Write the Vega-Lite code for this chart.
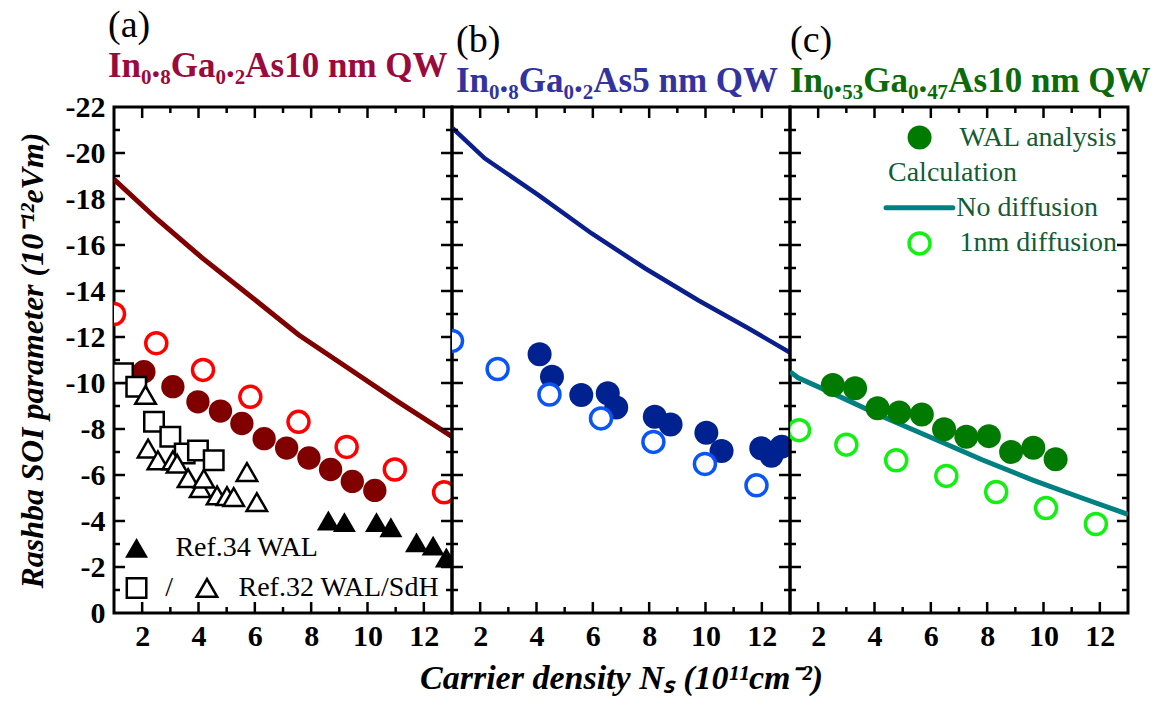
{
  "$schema": "https://vega.github.io/schema/vega-lite/v6.json",
  "padding": {"left": 14, "top": 5, "right": 5, "bottom": 2},
  "background": "white",
  "datasets": {
    "xmaj": [{"n":2,"a":0},{"n":4,"a":0},{"n":6,"a":0},{"n":8,"a":0},{"n":10,"a":0},{"n":12,"a":0},{"n":2,"a":-22},{"n":4,"a":-22},{"n":6,"a":-22},{"n":8,"a":-22},{"n":10,"a":-22},{"n":12,"a":-22}],
    "xmin": [{"n":3,"a":0},{"n":5,"a":0},{"n":7,"a":0},{"n":9,"a":0},{"n":11,"a":0},{"n":3,"a":-22},{"n":5,"a":-22},{"n":7,"a":-22},{"n":9,"a":-22},{"n":11,"a":-22}],
    "ymaj": [{"n":1,"a":-2},{"n":1,"a":-4},{"n":1,"a":-6},{"n":1,"a":-8},{"n":1,"a":-10},{"n":1,"a":-12},{"n":1,"a":-14},{"n":1,"a":-16},{"n":1,"a":-18},{"n":1,"a":-20},{"n":13,"a":-2},{"n":13,"a":-4},{"n":13,"a":-6},{"n":13,"a":-8},{"n":13,"a":-10},{"n":13,"a":-12},{"n":13,"a":-14},{"n":13,"a":-16},{"n":13,"a":-18},{"n":13,"a":-20}],
    "ymin": [{"n":1,"a":-1},{"n":1,"a":-3},{"n":1,"a":-5},{"n":1,"a":-7},{"n":1,"a":-9},{"n":1,"a":-11},{"n":1,"a":-13},{"n":1,"a":-15},{"n":1,"a":-17},{"n":1,"a":-19},{"n":1,"a":-21},{"n":13,"a":-1},{"n":13,"a":-3},{"n":13,"a":-5},{"n":13,"a":-7},{"n":13,"a":-9},{"n":13,"a":-11},{"n":13,"a":-13},{"n":13,"a":-15},{"n":13,"a":-17},{"n":13,"a":-19},{"n":13,"a":-21}],
    "a_line": [{"n":1.0,"a":-18.86},{"n":2.53,"a":-17.12},{"n":4.13,"a":-15.44},{"n":5.78,"a":-13.84},{"n":7.55,"a":-12.1},{"n":9.32,"a":-10.64},{"n":11.09,"a":-9.18},{"n":12.92,"a":-7.73},{"n":13.0,"a":-7.67}],
    "a_fill": [{"n":2.06,"a":-10.49},{"n":3.09,"a":-9.84},{"n":3.98,"a":-9.18},{"n":4.78,"a":-8.78},{"n":5.54,"a":-8.24},{"n":6.33,"a":-7.58},{"n":7.13,"a":-7.17},{"n":7.92,"a":-6.74},{"n":8.69,"a":-6.24},{"n":9.46,"a":-5.72},{"n":10.26,"a":-5.33}],
    "a_open": [{"n":1.0,"a":-13.0},{"n":2.5,"a":-11.73},{"n":4.16,"a":-10.57},{"n":5.84,"a":-9.4},{"n":7.55,"a":-8.31},{"n":9.26,"a":-7.22},{"n":10.97,"a":-6.24},{"n":12.72,"a":-5.25}],
    "a_ref34": [{"n":8.61,"a":-4.02},{"n":9.18,"a":-3.95},{"n":10.32,"a":-3.95},{"n":10.83,"a":-3.73},{"n":11.74,"a":-3.07},{"n":12.33,"a":-2.93},{"n":12.8,"a":-2.41},{"n":1.8,"a":-2.83}],
    "a_ref32sq": [{"n":1.32,"a":-10.42},{"n":1.79,"a":-9.84},{"n":2.42,"a":-8.31},{"n":3.0,"a":-7.66},{"n":3.51,"a":-6.93},{"n":3.98,"a":-7.07},{"n":4.54,"a":-6.64},{"n":1.8,"a":-1.09}],
    "a_ref32tri": [{"n":2.12,"a":-9.48},{"n":2.21,"a":-7.15},{"n":2.56,"a":-6.64},{"n":3.09,"a":-6.64},{"n":3.24,"a":-6.49},{"n":3.63,"a":-5.86},{"n":4.06,"a":-5.43},{"n":4.19,"a":-5.84},{"n":4.66,"a":-5.11},{"n":5.01,"a":-5.08},{"n":5.25,"a":-5.04},{"n":5.72,"a":-6.13},{"n":6.07,"a":-4.82},{"n":4.3,"a":-1.09}],
    "a_text": [{"n":3.18,"a":-2.83,"label":"Ref.34 WAL"},{"n":2.82,"a":-1.09,"label":"/"},{"n":5.42,"a":-1.09,"label":"Ref.32 WAL/SdH"}],
    "b_line": [{"n":1.0,"a":-21.1},{"n":2.16,"a":-19.77},{"n":4.07,"a":-18.17},{"n":5.96,"a":-16.5},{"n":7.85,"a":-14.99},{"n":9.74,"a":-13.6},{"n":11.52,"a":-12.38},{"n":13.0,"a":-11.32}],
    "b_fill": [{"n":4.11,"a":-11.25},{"n":4.55,"a":-10.27},{"n":5.59,"a":-9.48},{"n":6.53,"a":-9.55},{"n":6.83,"a":-8.93},{"n":8.2,"a":-8.53},{"n":8.76,"a":-8.2},{"n":10.03,"a":-7.84},{"n":10.57,"a":-7.04},{"n":11.98,"a":-7.16},{"n":12.34,"a":-6.84},{"n":12.7,"a":-7.23}],
    "b_open": [{"n":1.0,"a":-11.83},{"n":2.62,"a":-10.61},{"n":4.46,"a":-9.5},{"n":6.29,"a":-8.46},{"n":8.15,"a":-7.44},{"n":9.98,"a":-6.48},{"n":11.81,"a":-5.55}],
    "c_line": [{"n":1.0,"a":-10.49},{"n":1.29,"a":-10.23},{"n":2.52,"a":-9.55},{"n":4.3,"a":-8.53},{"n":6.07,"a":-7.6},{"n":7.84,"a":-6.65},{"n":9.62,"a":-5.78},{"n":11.39,"a":-4.99},{"n":13.0,"a":-4.29}],
    "c_fill": [{"n":2.52,"a":-9.91},{"n":3.31,"a":-9.77},{"n":4.11,"a":-8.9},{"n":4.88,"a":-8.72},{"n":5.68,"a":-8.63},{"n":6.47,"a":-7.99},{"n":7.26,"a":-7.66},{"n":8.06,"a":-7.69},{"n":8.85,"a":-7.0},{"n":9.64,"a":-7.18},{"n":10.43,"a":-6.68},{"n":5.6,"a":-20.67}],
    "c_open": [{"n":1.32,"a":-7.95},{"n":3.0,"a":-7.32},{"n":4.77,"a":-6.64},{"n":6.55,"a":-5.96},{"n":8.32,"a":-5.26},{"n":10.09,"a":-4.56},{"n":11.86,"a":-3.87},{"n":5.6,"a":-16.07}],
    "c_legline": [{"n":4.41,"a":-17.62},{"n":6.78,"a":-17.62}],
    "c_text": [{"n":7.02,"a":-20.67,"label":"WAL analysis"},{"n":4.48,"a":-19.12,"label":"Calculation"},{"n":6.9,"a":-17.62,"label":"No diffusion"},{"n":7.02,"a":-16.07,"label":"1nm diffusion"}]
  },
  "hconcat": [
    {
      "width": 338, "height": 506,
      "title": {"text": "(a)", "subtitle": "In₀.₈Ga₀.₂As10 nm QW", "subtitleColor": "#9b0a3c", "dx": -6},
      "layer": [
        {"data": {"name": "a_line"}, "mark": {"type": "line", "color": "#800000", "strokeWidth": 5, "clip": true},
         "encoding": {
           "x": {"field": "n", "type": "quantitative", "scale": {"domain": [1, 13], "nice": false, "zero": false},
                 "axis": {"orient": "bottom", "values": [2,4,6,8,10,12], "domain": false, "ticks": false, "tickSize": 0, "labelOverlap": false, "labelFlush": false, "labelPadding": 8, "title": null}},
           "y": {"field": "a", "type": "quantitative", "scale": {"domain": [0, -22], "nice": false, "zero": false},
                 "axis": {"orient": "left", "values": [0,-2,-4,-6,-8,-10,-12,-14,-16,-18,-20,-22], "domain": false, "ticks": false, "tickSize": 0, "labelExpr": "(datum.value < 0 ? '-' : '') + abs(datum.value)", "labelOverlap": false, "labelFlush": false, "labelPadding": 9, "title": "Rashba SOI parameter (10⁻¹²eVm)", "titlePadding": 16}}
         }},
        {"data": {"name": "xmaj"}, "mark": {"type": "point", "shape": "M0,-1L0,1", "filled": false, "stroke": "black", "strokeWidth": 2.5, "size": 484, "opacity": 1, "clip": true}, "encoding": {"x": {"field": "n", "type": "quantitative", "axis": null}, "y": {"field": "a", "type": "quantitative", "axis": null}}},
        {"data": {"name": "xmin"}, "mark": {"type": "point", "shape": "M0,-1L0,1", "filled": false, "stroke": "black", "strokeWidth": 2.5, "size": 144, "opacity": 1, "clip": true}, "encoding": {"x": {"field": "n", "type": "quantitative", "axis": null}, "y": {"field": "a", "type": "quantitative", "axis": null}}},
        {"data": {"name": "ymaj"}, "mark": {"type": "point", "shape": "M-1,0L1,0", "filled": false, "stroke": "black", "strokeWidth": 2.5, "size": 484, "opacity": 1, "clip": true}, "encoding": {"x": {"field": "n", "type": "quantitative", "axis": null}, "y": {"field": "a", "type": "quantitative", "axis": null}}},
        {"data": {"name": "ymin"}, "mark": {"type": "point", "shape": "M-1,0L1,0", "filled": false, "stroke": "black", "strokeWidth": 2.5, "size": 144, "opacity": 1, "clip": true}, "encoding": {"x": {"field": "n", "type": "quantitative", "axis": null}, "y": {"field": "a", "type": "quantitative", "axis": null}}},
        {"data": {"name": "a_fill"}, "mark": {"type": "point", "shape": "circle", "filled": true, "color": "#800000", "size": 545, "opacity": 1, "clip": true},
         "encoding": {"x": {"field": "n", "type": "quantitative", "axis": null}, "y": {"field": "a", "type": "quantitative", "axis": null}}},
        {"data": {"name": "a_open"}, "mark": {"type": "point", "shape": "circle", "filled": true, "fill": "white", "stroke": "#ff0000", "strokeWidth": 3.5, "size": 441, "opacity": 1, "clip": true},
         "encoding": {"x": {"field": "n", "type": "quantitative", "axis": null}, "y": {"field": "a", "type": "quantitative", "axis": null}}},
        {"data": {"name": "a_ref32sq"}, "mark": {"type": "point", "shape": "square", "filled": true, "fill": "white", "stroke": "black", "strokeWidth": 2.5, "size": 380, "opacity": 1, "clip": true},
         "encoding": {"x": {"field": "n", "type": "quantitative", "axis": null}, "y": {"field": "a", "type": "quantitative", "axis": null}}},
        {"data": {"name": "a_ref32tri"}, "mark": {"type": "point", "shape": "triangle-up", "filled": true, "fill": "white", "stroke": "black", "strokeWidth": 2.5, "size": 420, "opacity": 1, "clip": true},
         "encoding": {"x": {"field": "n", "type": "quantitative", "axis": null}, "y": {"field": "a", "type": "quantitative", "axis": null}}},
        {"data": {"name": "a_ref34"}, "mark": {"type": "point", "shape": "triangle-up", "filled": true, "color": "black", "size": 529, "opacity": 1, "clip": true},
         "encoding": {"x": {"field": "n", "type": "quantitative", "axis": null}, "y": {"field": "a", "type": "quantitative", "axis": null}}},
        {"data": {"name": "a_text"}, "mark": {"type": "text", "align": "left", "baseline": "middle", "font": "Liberation Serif", "fontSize": 28, "color": "black"},
         "encoding": {"x": {"field": "n", "type": "quantitative", "axis": null}, "y": {"field": "a", "type": "quantitative", "axis": null}, "text": {"field": "label"}}}
      ],
      "resolve": {"axis": {"x": "independent", "y": "independent"}}
    },
    {
      "width": 338, "height": 506,
      "title": {"text": "(b)", "subtitle": "In₀.₈Ga₀.₂As5 nm QW", "subtitleColor": "#3333a0", "dx": 4},
      "layer": [
        {"data": {"name": "b_line"}, "mark": {"type": "line", "color": "#0a1e8c", "strokeWidth": 4.5, "clip": true},
         "encoding": {
           "x": {"field": "n", "type": "quantitative", "scale": {"domain": [1, 13], "nice": false, "zero": false},
                 "axis": {"orient": "bottom", "values": [2,4,6,8,10,12], "domain": false, "ticks": false, "tickSize": 0, "labelOverlap": false, "labelFlush": false, "labelPadding": 8, "title": "Carrier density Nₛ (10¹¹cm⁻²)", "titlePadding": 10, "titleFontSize": 34}},
           "y": {"field": "a", "type": "quantitative", "scale": {"domain": [0, -22], "nice": false, "zero": false}, "axis": null}
         }},
        {"data": {"name": "xmaj"}, "mark": {"type": "point", "shape": "M0,-1L0,1", "filled": false, "stroke": "black", "strokeWidth": 2.5, "size": 484, "opacity": 1, "clip": true}, "encoding": {"x": {"field": "n", "type": "quantitative", "axis": null}, "y": {"field": "a", "type": "quantitative", "axis": null}}},
        {"data": {"name": "xmin"}, "mark": {"type": "point", "shape": "M0,-1L0,1", "filled": false, "stroke": "black", "strokeWidth": 2.5, "size": 144, "opacity": 1, "clip": true}, "encoding": {"x": {"field": "n", "type": "quantitative", "axis": null}, "y": {"field": "a", "type": "quantitative", "axis": null}}},
        {"data": {"name": "ymaj"}, "mark": {"type": "point", "shape": "M-1,0L1,0", "filled": false, "stroke": "black", "strokeWidth": 2.5, "size": 484, "opacity": 1, "clip": true}, "encoding": {"x": {"field": "n", "type": "quantitative", "axis": null}, "y": {"field": "a", "type": "quantitative", "axis": null}}},
        {"data": {"name": "ymin"}, "mark": {"type": "point", "shape": "M-1,0L1,0", "filled": false, "stroke": "black", "strokeWidth": 2.5, "size": 144, "opacity": 1, "clip": true}, "encoding": {"x": {"field": "n", "type": "quantitative", "axis": null}, "y": {"field": "a", "type": "quantitative", "axis": null}}},
        {"data": {"name": "b_fill"}, "mark": {"type": "point", "shape": "circle", "filled": true, "color": "#002290", "size": 576, "opacity": 1, "clip": true},
         "encoding": {"x": {"field": "n", "type": "quantitative", "axis": null}, "y": {"field": "a", "type": "quantitative", "axis": null}}},
        {"data": {"name": "b_open"}, "mark": {"type": "point", "shape": "circle", "filled": true, "fill": "white", "stroke": "#0a55f5", "strokeWidth": 3.5, "size": 441, "opacity": 1, "clip": true},
         "encoding": {"x": {"field": "n", "type": "quantitative", "axis": null}, "y": {"field": "a", "type": "quantitative", "axis": null}}}
      ],
      "resolve": {"axis": {"x": "independent", "y": "independent"}}
    },
    {
      "width": 338, "height": 506,
      "title": {"text": "(c)", "subtitle": "In₀.₅₃Ga₀.₄₇As10 nm QW", "subtitleColor": "#0b6b0b", "dx": 0},
      "layer": [
        {"data": {"name": "c_line"}, "mark": {"type": "line", "color": "#008080", "strokeWidth": 5, "clip": true},
         "encoding": {
           "x": {"field": "n", "type": "quantitative", "scale": {"domain": [1, 13], "nice": false, "zero": false},
                 "axis": {"orient": "bottom", "values": [2,4,6,8,10,12], "domain": false, "ticks": false, "tickSize": 0, "labelOverlap": false, "labelFlush": false, "labelPadding": 8, "title": null}},
           "y": {"field": "a", "type": "quantitative", "scale": {"domain": [0, -22], "nice": false, "zero": false}, "axis": null}
         }},
        {"data": {"name": "xmaj"}, "mark": {"type": "point", "shape": "M0,-1L0,1", "filled": false, "stroke": "black", "strokeWidth": 2.5, "size": 484, "opacity": 1, "clip": true}, "encoding": {"x": {"field": "n", "type": "quantitative", "axis": null}, "y": {"field": "a", "type": "quantitative", "axis": null}}},
        {"data": {"name": "xmin"}, "mark": {"type": "point", "shape": "M0,-1L0,1", "filled": false, "stroke": "black", "strokeWidth": 2.5, "size": 144, "opacity": 1, "clip": true}, "encoding": {"x": {"field": "n", "type": "quantitative", "axis": null}, "y": {"field": "a", "type": "quantitative", "axis": null}}},
        {"data": {"name": "ymaj"}, "mark": {"type": "point", "shape": "M-1,0L1,0", "filled": false, "stroke": "black", "strokeWidth": 2.5, "size": 484, "opacity": 1, "clip": true}, "encoding": {"x": {"field": "n", "type": "quantitative", "axis": null}, "y": {"field": "a", "type": "quantitative", "axis": null}}},
        {"data": {"name": "ymin"}, "mark": {"type": "point", "shape": "M-1,0L1,0", "filled": false, "stroke": "black", "strokeWidth": 2.5, "size": 144, "opacity": 1, "clip": true}, "encoding": {"x": {"field": "n", "type": "quantitative", "axis": null}, "y": {"field": "a", "type": "quantitative", "axis": null}}},
        {"data": {"name": "c_legline"}, "mark": {"type": "line", "color": "#008080", "strokeWidth": 5, "strokeCap": "round"},
         "encoding": {"x": {"field": "n", "type": "quantitative", "axis": null}, "y": {"field": "a", "type": "quantitative", "axis": null}}},
        {"data": {"name": "c_fill"}, "mark": {"type": "point", "shape": "circle", "filled": true, "color": "#007a00", "size": 576, "opacity": 1, "clip": true},
         "encoding": {"x": {"field": "n", "type": "quantitative", "axis": null}, "y": {"field": "a", "type": "quantitative", "axis": null}}},
        {"data": {"name": "c_open"}, "mark": {"type": "point", "shape": "circle", "filled": true, "fill": "white", "stroke": "#11f011", "strokeWidth": 3.5, "size": 441, "opacity": 1, "clip": true},
         "encoding": {"x": {"field": "n", "type": "quantitative", "axis": null}, "y": {"field": "a", "type": "quantitative", "axis": null}}},
        {"data": {"name": "c_text"}, "mark": {"type": "text", "align": "left", "baseline": "middle", "font": "Liberation Serif", "fontSize": 28, "color": "#135c33"},
         "encoding": {"x": {"field": "n", "type": "quantitative", "axis": null}, "y": {"field": "a", "type": "quantitative", "axis": null}, "text": {"field": "label"}}}
      ],
      "resolve": {"axis": {"x": "independent", "y": "independent"}}
    }
  ],
  "spacing": 0,
  "bounds": "flush",
  "config": {
    "view": {"stroke": "black", "strokeWidth": 3},
    "axis": {"grid": false,
             "labelFont": "Liberation Serif", "labelFontSize": 30, "labelFontWeight": "bold", "labelColor": "black",
             "titleFont": "Liberation Serif", "titleFontSize": 32, "titleFontWeight": "bold", "titleFontStyle": "italic", "titleColor": "black"},
    "title": {"font": "Liberation Serif", "fontSize": 38, "fontWeight": "normal", "color": "black", "anchor": "start", "frame": "group",
              "subtitleFont": "Liberation Serif", "subtitleFontSize": 35, "subtitleFontWeight": "bold", "subtitlePadding": 4, "offset": 8}
  }
}
